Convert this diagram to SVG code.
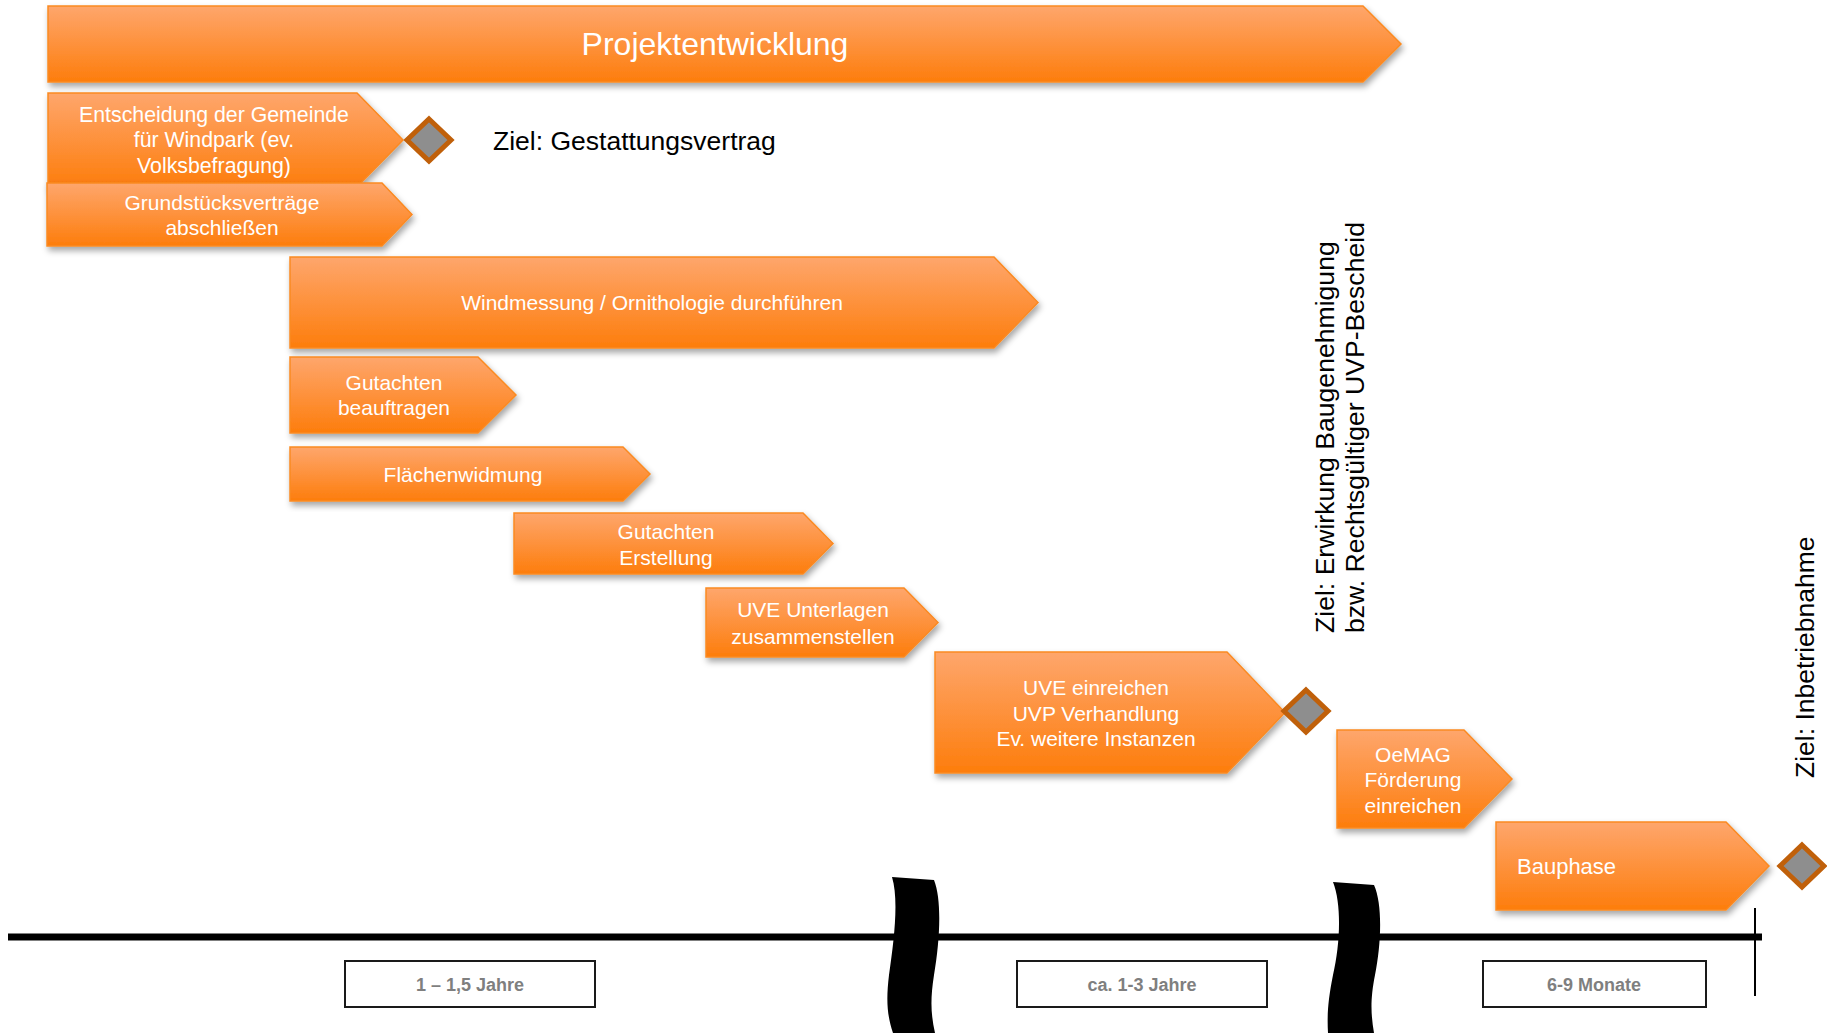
<svg xmlns="http://www.w3.org/2000/svg" width="1827" height="1033" viewBox="0 0 1827 1033">
<defs>
<linearGradient id="og" x1="0" y1="0" x2="0" y2="1">
<stop offset="0" stop-color="#FEA66C"/>
<stop offset="1" stop-color="#FD7D0C"/>
</linearGradient>
<filter id="sh" x="-5%" y="-10%" width="110%" height="130%">
<feDropShadow dx="2" dy="4" stdDeviation="3" flood-color="#000" flood-opacity="0.35"/>
</filter>
</defs>
<style>
.bar{fill:url(#og);stroke:#FA8A22;stroke-width:1.5;filter:url(#sh)}
.t{font-family:"Liberation Sans",Arial,sans-serif;font-size:21px;fill:#fff;text-anchor:middle}
.ms{fill:#8E8E8E;stroke:#C0600A;stroke-width:5;stroke-linejoin:miter}
.goal{font-family:"Liberation Sans",Arial,sans-serif;font-size:26.6px;fill:#000}
.box{fill:#fff;stroke:#1a1a1a;stroke-width:2}
.bt{font-family:"Liberation Sans",Arial,sans-serif;font-size:18px;font-weight:bold;fill:#7F7F7F;text-anchor:middle}
</style>
<rect width="1827" height="1033" fill="#fff"/>

<g id="projektentwicklung">
<polygon class="bar" points="48,6 1363,6 1401,44 1363,82 48,82"/>
<text class="t" x="715" y="55" style="font-size:32px">Projektentwicklung</text>
</g>
<g id="entscheidung">
<polygon class="bar" points="48,93 357,93 403,140 357,187 48,187"/>
<text class="t" x="214" y="122" style="font-size:21.3px">Entscheidung der Gemeinde</text>
<text class="t" x="214" y="147" style="font-size:21.3px">für Windpark (ev.</text>
<text class="t" x="214" y="173" style="font-size:21.3px">Volksbefragung)</text>
</g>
<g id="grundstueck">
<polygon class="bar" points="47,183 382,183 412,214.5 382,246 47,246"/>
<text class="t" x="222" y="210">Grundstücksverträge</text>
<text class="t" x="222" y="235">abschließen</text>
</g>
<g id="windmessung">
<polygon class="bar" points="290,257 994,257 1038,302.5 994,348 290,348"/>
<text class="t" x="652" y="310">Windmessung / Ornithologie durchführen</text>
</g>
<g id="gutachten-beauftragen">
<polygon class="bar" points="290,357 478,357 516,395 478,433 290,433"/>
<text class="t" x="394" y="390">Gutachten</text>
<text class="t" x="394" y="415">beauftragen</text>
</g>
<g id="flaechenwidmung">
<polygon class="bar" points="290,447 623,447 650,474 623,501 290,501"/>
<text class="t" x="463" y="482">Flächenwidmung</text>
</g>
<g id="gutachten-erstellung">
<polygon class="bar" points="514,513 803,513 833,543.5 803,574 514,574"/>
<text class="t" x="666" y="539">Gutachten</text>
<text class="t" x="666" y="565">Erstellung</text>
</g>
<g id="uve-unterlagen">
<polygon class="bar" points="706,588 904,588 938,622.5 904,657 706,657"/>
<text class="t" x="813" y="617">UVE Unterlagen</text>
<text class="t" x="813" y="644">zusammenstellen</text>
</g>
<g id="uve-einreichen">
<polygon class="bar" points="935,652 1227,652 1285,712.5 1227,773 935,773"/>
<text class="t" x="1096" y="695">UVE einreichen</text>
<text class="t" x="1096" y="721">UVP Verhandlung</text>
<text class="t" x="1096" y="746">Ev. weitere Instanzen</text>
</g>
<g id="oemag">
<polygon class="bar" points="1337,730 1464,730 1512,779 1464,828 1337,828"/>
<text class="t" x="1413" y="762">OeMAG</text>
<text class="t" x="1413" y="787">Förderung</text>
<text class="t" x="1413" y="813">einreichen</text>
</g>
<g id="bauphase">
<polygon class="bar" points="1496,822 1726,822 1769,866 1726,910 1496,910"/>
<text class="t" x="1517" y="874" style="text-anchor:start;font-size:22px">Bauphase</text>
</g>

<g id="milestone-gestattung">
<polygon class="ms" points="429,119 451,140 429,161 407,140"/>
<text class="goal" x="493" y="150" style="font-size:26.5px">Ziel: Gestattungsvertrag</text>
</g>
<g id="milestone-genehmigung">
<polygon class="ms" points="1306,690 1328,711 1306,732 1284,711"/>
<text class="goal" transform="translate(1334,633) rotate(-90)">Ziel: Erwirkung Baugenehmigung</text>
<text class="goal" transform="translate(1364,633) rotate(-90)">bzw. Rechtsgültiger UVP-Bescheid</text>
</g>
<g id="milestone-inbetriebnahme">
<polygon class="ms" points="1802,845 1824,866 1802,887 1780,866"/>
<text class="goal" transform="translate(1814,778) rotate(-90)" style="font-size:26.5px">Ziel: Inbetriebnahme</text>
</g>

<g id="connectors">
<line x1="8" y1="937" x2="1762" y2="937" stroke="#000" stroke-width="7"/>
<line x1="1755" y1="908" x2="1755" y2="996" stroke="#000" stroke-width="2"/>
<path d="M892,877 L934,880 C942,900 940,940 934,975 C930,1000 931,1015 935,1033 L893,1033 C887,1015 886,1000 889,975 C894,940 899,900 892,877 Z" fill="#000"/>
<path d="M1333,882 L1374,885 C1383,905 1381,945 1375,975 C1370,1000 1371,1015 1374,1033 L1328,1033 C1327,1015 1328,1000 1333,975 C1340,945 1342,905 1333,882 Z" fill="#000"/>
</g>

<g id="duration-1">
<rect class="box" x="345" y="961" width="250" height="46"/>
<text class="bt" x="470" y="991">1 – 1,5 Jahre</text>
</g>
<g id="duration-2">
<rect class="box" x="1017" y="961" width="250" height="46"/>
<text class="bt" x="1142" y="991">ca. 1-3 Jahre</text>
</g>
<g id="duration-3">
<rect class="box" x="1483" y="961" width="223" height="46"/>
<text class="bt" x="1594" y="991">6-9 Monate</text>
</g>
</svg>
